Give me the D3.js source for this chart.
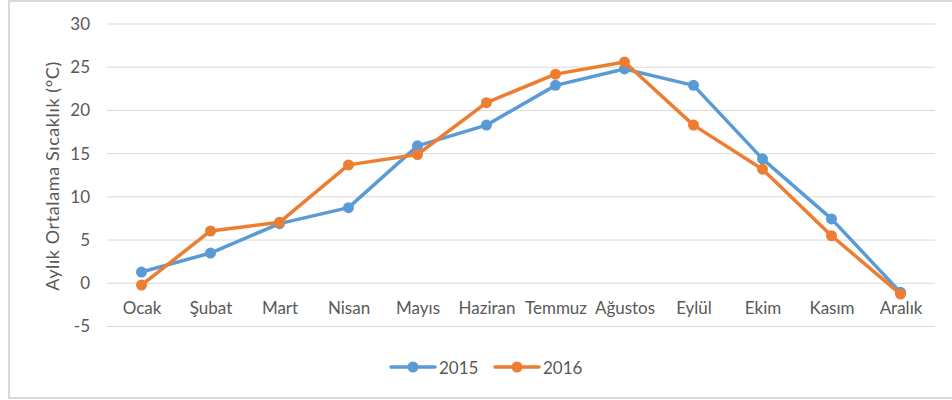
<!DOCTYPE html>
<html>
<head>
<meta charset="utf-8">
<script src="https://cdn.jsdelivr.net/npm/d3@7"></script>
<style>
  html, body { margin: 0; padding: 0; background: #fff; }
  svg { display: block; font-family: Lato, "Open Sans", sans-serif; }
</style>
</head>
<body>
<svg id="chart" width="952" height="400"></svg>
<script>
// Monthly average temperature, 2015 vs 2016
const months = ["Ocak", "Şubat", "Mart", "Nisan", "Mayıs", "Haziran", "Temmuz", "Ağustos", "Eylül", "Ekim", "Kasım", "Aralık"];
const temps2015 = [1.3, 3.5, 6.9, 8.75, 15.9, 18.3, 22.9, 24.8, 22.9, 14.4, 7.45, -1.05];
const temps2016 = [-0.2, 6.05, 7.05, 13.7, 14.9, 20.9, 24.2, 25.6, 18.3, 13.2, 5.5, -1.25];
const yTicks = [-5, 0, 5, 10, 15, 20, 25, 30];
const seriesNames = ["2015", "2016"];

const colors = ["#5B9BD5", "#ED7D31"];
const textColor = "#595959";

const svg = d3.select("#chart");

// chart frame
svg.append("rect")
  .attr("x", 9).attr("y", 1)
  .attr("width", 960).attr("height", 397)
  .attr("fill", "#fff")
  .attr("stroke", "#d9d9d9").attr("stroke-width", 2);

const plot = { left: 107, right: 935, top: 24, bottom: 326.5 };

const x = d3.scalePoint().domain(months).range([plot.left, plot.right]).padding(0.5);
const y = d3.scaleLinear().domain([-5, 30]).range([plot.bottom, plot.top]);

// horizontal gridlines
svg.append("g")
  .selectAll("line")
  .data(yTicks)
  .join("line")
  .attr("x1", plot.left).attr("x2", plot.right)
  .attr("y1", d => y(d)).attr("y2", d => y(d))
  .attr("stroke", "#d9d9d9").attr("stroke-width", 1);

// y axis labels
const yAxis = d3.axisLeft(y).tickValues(yTicks).tickSize(0).tickPadding(0).tickFormat(d => String(d));
const gy = svg.append("g").attr("transform", `translate(90,0)`).call(yAxis);
gy.select(".domain").remove();
gy.selectAll("text")
  .attr("fill", textColor)
  .style("font-size", "17px")
  .style("font-family", "Lato, sans-serif");

// category labels, placed just under the zero line
const xAxis = d3.axisBottom(x).tickSize(0).tickPadding(0);
const gx = svg.append("g").attr("transform", `translate(0,${y(0)})`).call(xAxis);
gx.select(".domain").remove();
gx.selectAll("text")
  .attr("fill", textColor)
  .attr("dy", null)
  .attr("y", 31)
  .style("font-size", "17px")
  .style("font-family", "Lato, sans-serif");

// y axis title
svg.append("text")
  .attr("transform", `translate(59,176) rotate(-90)`)
  .attr("text-anchor", "middle")
  .attr("fill", textColor)
  .style("font-size", "18px")
  .style("letter-spacing", "0.6px")
  .text("Aylık Ortalama Sıcaklık (°C)");

// series lines and markers
const seriesData = [temps2015, temps2016];
const line = d3.line().x((d, i) => x(months[i])).y(d => y(d));

seriesData.forEach((vals, s) => {
  const g = svg.append("g");
  g.append("path")
    .datum(vals)
    .attr("d", line)
    .attr("fill", "none")
    .attr("stroke", colors[s])
    .attr("stroke-width", 3.5)
    .attr("stroke-linejoin", "round")
    .attr("stroke-linecap", "round");
  g.selectAll("circle")
    .data(vals)
    .join("circle")
    .attr("cx", (d, i) => x(months[i]))
    .attr("cy", d => y(d))
    .attr("r", 5.5)
    .attr("fill", colors[s]);
});

// legend
const legend = svg.append("g").attr("transform", "translate(391,367)");
const legendX = [0, 104];
seriesNames.forEach((name, s) => {
  const g = legend.append("g").attr("transform", `translate(${legendX[s]},0)`);
  g.append("line")
    .attr("x1", 0).attr("x2", 44).attr("y1", 0).attr("y2", 0)
    .attr("stroke", colors[s]).attr("stroke-width", 3.5)
    .attr("stroke-linecap", "round");
  g.append("circle").attr("cx", 22).attr("cy", 0).attr("r", 5.5).attr("fill", colors[s]);
  g.append("text")
    .attr("x", 48).attr("y", 6.5)
    .attr("fill", textColor)
    .style("font-size", "17px")
    .text(name);
});
</script>
</body>
</html>
